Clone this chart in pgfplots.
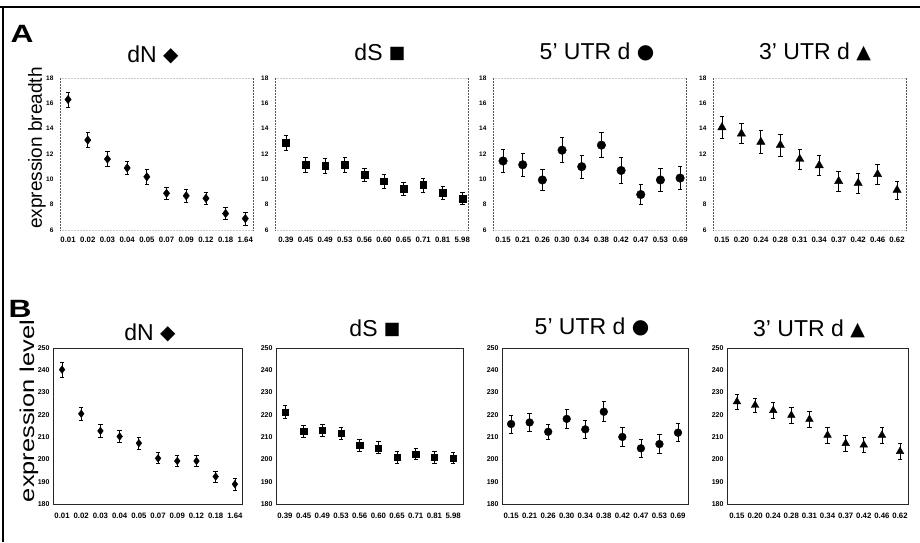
\documentclass[border=0pt]{standalone}
\usepackage{fontspec}
\setmainfont{Liberation Sans}
\newfontfamily\sym{DejaVu Sans}
\usepackage{graphicx}
\usepackage{pgfplots}
\pgfplotsset{compat=1.18}

\pgfplotsset{
  base/.style={scale only axis, anchor=south west, xtick={0,...,9},
    tick style={draw=none},
    /pgf/number format/assume math mode=true,
    xticklabel style={font=\fontsize{7.8}{8}\selectfont\bfseries, inner xsep=0pt},
    yticklabel style={font=\fontsize{6.5}{7}\selectfont\bfseries},
    clip=false},
  top/.style={base, height=152pt, width=193pt, ymin=6, ymax=18, ytick={6,8,...,18},
    axis line style={black!20, densely dotted, line width=0.5pt},
    separate axis lines,
    y axis line style={black!65},
    xticklabel style={yshift=-4pt}, yticklabel style={xshift=-3pt}},
  bot/.style={base, height=156pt, ymin=180, ymax=250, ytick={180,190,...,250},
    axis line style={black!85, line width=0.6pt},
    yticklabel style={font=\fontsize{7}{7}\selectfont\bfseries},
    xticklabel style={yshift=-6pt}},
  eb/.style={only marks, black, error bars/.cd, y dir=both, y explicit,
    error bar style={line width=0.8pt, black},
    error mark options={rotate=90, mark size=2.2pt, line width=0.8pt, black},
    /pgfplots/.cd},
}
\newcommand{\symD}{\raisebox{1.5pt}{\fontsize{20}{20}\selectfont\sym ◆}}
\newcommand{\symS}{\raisebox{1.5pt}{\fontsize{17.5}{17.5}\selectfont\sym ■}}
\newcommand{\symC}{\raisebox{0.5pt}{\fontsize{20}{20}\selectfont\sym ●}}
\newcommand{\symT}{\raisebox{1pt}{\fontsize{19}{19}\selectfont\sym ▲}}
\newcommand{\tf}{\fontsize{23}{26}\selectfont}

\begin{document}
\begin{tikzpicture}
\path[use as bounding box] (0,0) rectangle (920pt,542pt);
\fill[white] (0,0) rectangle (920pt,542pt);
\draw[line width=1.5pt] (0,535pt) -- (920pt,535pt);
\draw[line width=1.5pt] (3pt,0) -- (3pt,535pt);

% ---------- Row A ----------
\begin{axis}[top, at={(60pt,312pt)}, xmin=-0.41, xmax=9.39,
  xticklabels={0.01,0.02,0.03,0.04,0.05,0.07,0.09,0.12,0.18,1.64}]
\addplot[mark=diamond*, mark size=4.2pt, eb] table[x=x,y=y,y error=e] {
x y e
0 16.3 0.6
1 13.1 0.6
2 11.6 0.6
3 10.9 0.5
4 10.2 0.6
5 8.9 0.5
6 8.7 0.5
7 8.5 0.5
8 7.3 0.5
9 6.9 0.5
};
\end{axis}

\begin{axis}[top, at={(275pt,312pt)}, xmin=-0.56, xmax=9.29,
  xticklabels={0.39,0.45,0.49,0.53,0.56,0.60,0.65,0.71,0.81,5.98}]
\addplot[mark=square*, mark size=3.4pt, eb] table[x=x,y=y,y error=e] {
x y e
0 12.9 0.6
1 11.15 0.6
2 11.05 0.6
3 11.15 0.6
4 10.35 0.55
5 9.85 0.55
6 9.25 0.5
7 9.55 0.55
8 8.95 0.5
9 8.5 0.45
};
\end{axis}

\begin{axis}[top, at={(493pt,312pt)}, xmin=-0.51, xmax=9.3,
  xticklabels={0.15,0.21,0.26,0.30,0.34,0.38,0.42,0.47,0.53,0.69}]
\addplot[mark=*, mark size=4.3pt, eb] table[x=x,y=y,y error=e] {
x y e
0 11.45 0.9
1 11.15 0.9
2 9.95 0.8
3 12.3 1.0
4 11.0 0.9
5 12.7 1.0
6 10.7 1.0
7 8.8 0.8
8 9.95 0.9
9 10.1 0.9
};
\end{axis}

\begin{axis}[top, at={(713pt,312pt)}, xmin=-0.46, xmax=9.46,
  xticklabels={0.15,0.20,0.24,0.28,0.31,0.34,0.37,0.42,0.46,0.62}]
\addplot[mark=triangle*, mark size=4.8pt, eb] table[x=x,y=y,y error=e] {
x y e
0 14.1 0.9
1 13.6 0.8
2 12.95 0.9
3 12.7 0.85
4 11.6 0.8
5 11.1 0.8
6 9.85 0.8
7 9.7 0.8
8 10.4 0.8
9 9.15 0.7
};
\end{axis}

% ---------- Row B ----------
\begin{axis}[bot, at={(53pt,38pt)}, width=189pt, xmin=-0.47, xmax=9.37,
  xticklabels={0.01,0.02,0.03,0.04,0.05,0.07,0.09,0.12,0.18,1.64}]
\addplot[mark=diamond*, mark size=3.8pt, eb] table[x=x,y=y,y error=e] {
x y e
0 240.3 3.3
1 220.5 3
2 212.8 2.7
3 210.3 2.7
4 207.3 2.7
5 200.5 2.5
6 199.3 2.5
7 199.3 2.5
8 192.3 2.5
9 188.9 2.8
};
\end{axis}

\begin{axis}[bot, at={(276pt,38pt)}, width=187pt, xmin=-0.48, xmax=9.53,
  xticklabels={0.39,0.45,0.49,0.53,0.56,0.60,0.65,0.71,0.81,5.98}]
\addplot[mark=square*, mark size=3.1pt, eb] table[x=x,y=y,y error=e] {
x y e
0 221.2 3
1 212.5 2.7
2 213.2 2.7
3 211.6 2.8
4 206.3 2.5
5 205.2 2.7
6 200.9 2.7
7 202.4 2.5
8 200.9 2.5
9 200.6 2.5
};
\end{axis}

\begin{axis}[bot, at={(502pt,38pt)}, width=186pt, xmin=-0.49, xmax=9.54,
  xticklabels={0.15,0.21,0.26,0.30,0.34,0.38,0.42,0.47,0.53,0.69}]
\addplot[mark=*, mark size=3.9pt, eb] table[x=x,y=y,y error=e] {
x y e
0 215.9 4
1 216.6 4
2 212.4 3.5
3 218.2 4.2
4 213.5 4.2
5 221.4 4.5
6 210.1 4.3
7 205.0 4.2
8 206.9 4.2
9 212.0 4
};
\end{axis}

\begin{axis}[bot, at={(727pt,38pt)}, width=181pt, xmin=-0.55, xmax=9.44,
  xticklabels={0.15,0.20,0.24,0.28,0.31,0.34,0.37,0.42,0.46,0.62}]
\addplot[mark=triangle*, mark size=4.4pt, eb] table[x=x,y=y,y error=e] {
x y e
0 225.9 3.5
1 224.3 3.3
2 222.0 3.5
3 219.8 3.5
4 218.0 3.5
5 210.9 3.5
6 207.2 3.6
7 206.5 3.5
8 210.9 3.5
9 203.6 3.5
};
\end{axis}

% ---------- Labels ----------
\node[xscale=1.27, font=\fontsize{25}{28}\selectfont\bfseries] at (22pt,508pt) {A};
\node[xscale=1.27, font=\fontsize{25}{28}\selectfont\bfseries] at (20pt,233pt) {B};
\node at (37pt,394pt) {\rotatebox{90}{\fontsize{19}{22}\selectfont expression breadth}};
\node at (29pt,131pt) {\rotatebox{90}{\scalebox{1.27}[1]{\fontsize{20}{22}\selectfont expression level}}};

\node at (153pt,487pt) {\tf dN \symD};
\node at (380pt,490pt) {\tf dS \symS};
\node at (597pt,490pt) {\tf 5' UTR d \symC};
\node at (815pt,490pt) {\tf 3' UTR d \symT};

\node at (150pt,209pt) {\tf dN \symD};
\node at (375pt,214pt) {\tf dS \symS};
\node at (592pt,215pt) {\tf 5' UTR d \symC};
\node at (809pt,213pt) {\tf 3' UTR d \symT};
\end{tikzpicture}
\end{document}
